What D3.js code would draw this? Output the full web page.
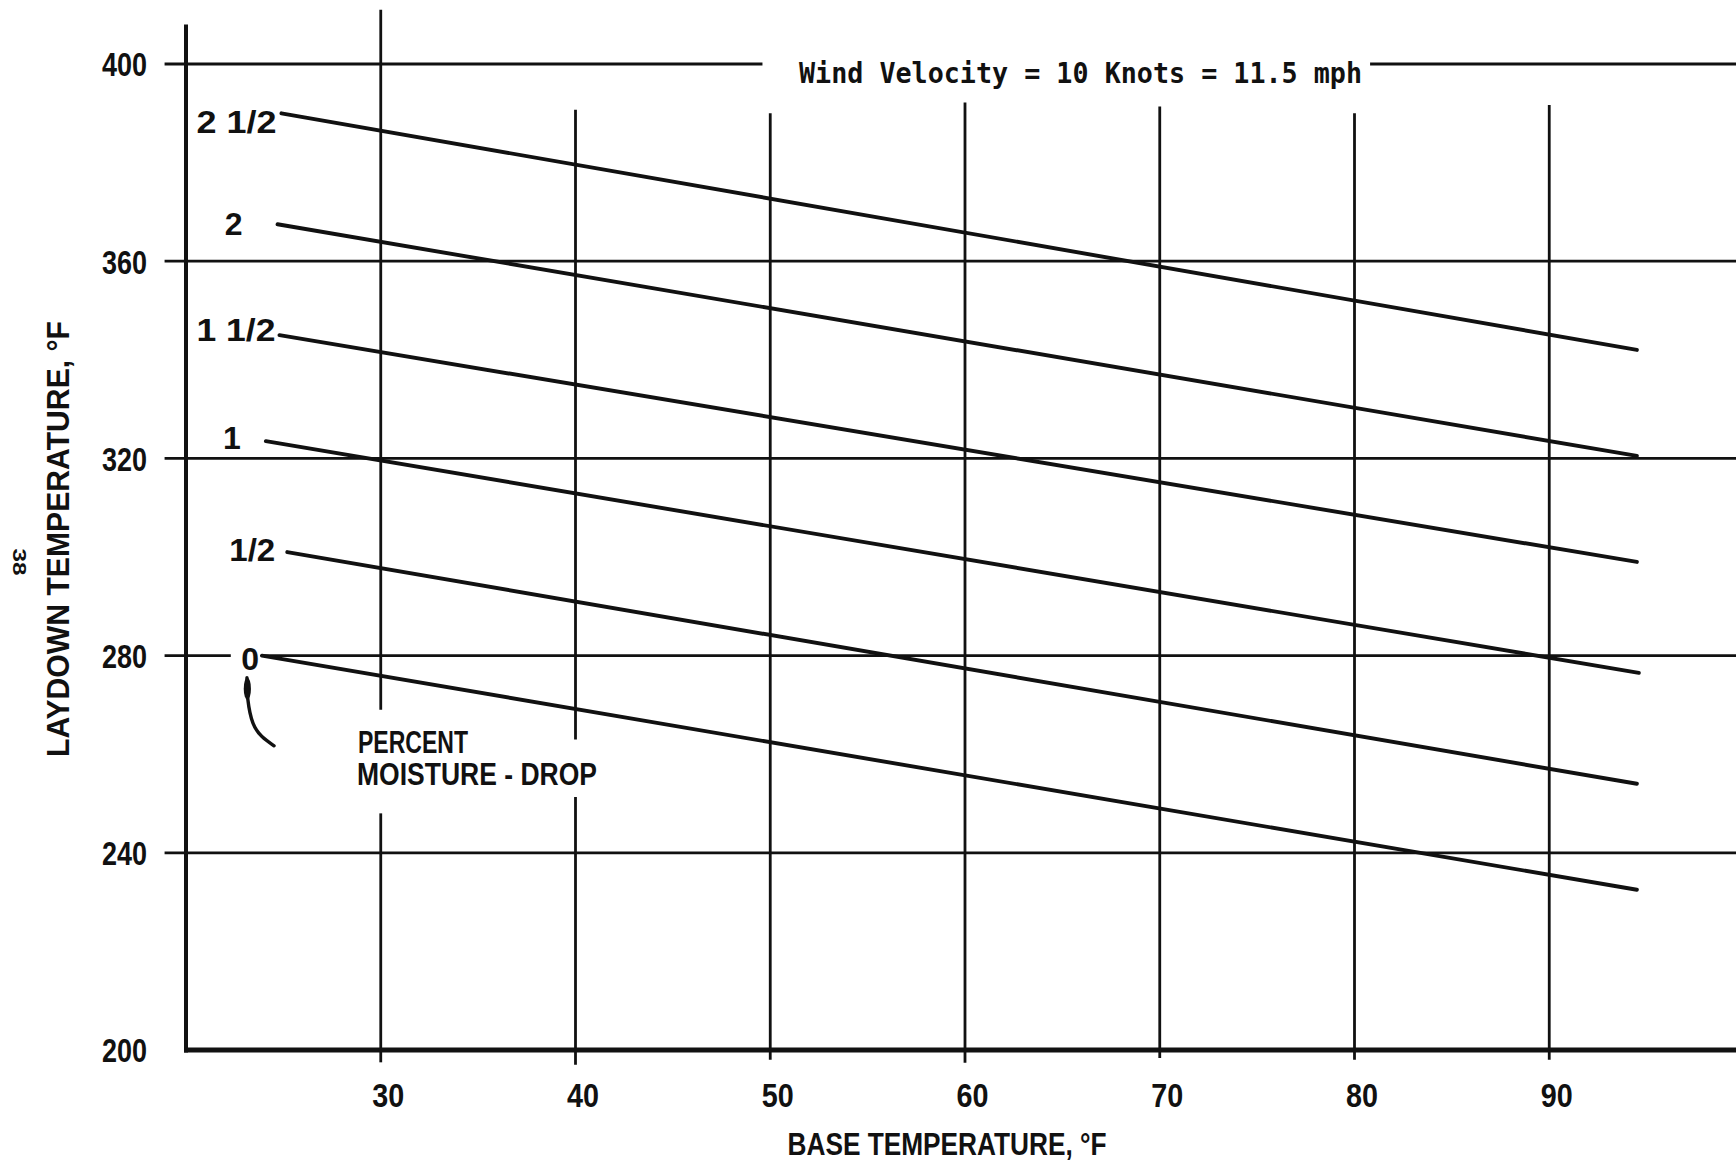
<!DOCTYPE html>
<html>
<head>
<meta charset="utf-8">
<script src="https://cdn.jsdelivr.net/npm/d3@7"></script>
<style>
  body { margin: 0; background: #fff; }
  svg { display: block; background: #fff; }
  .lbl { font-family: "Liberation Sans Narrow", "Liberation Sans", Arial, sans-serif; font-weight: bold; fill: #111; }
  .mono { font-family: "DejaVu Sans Mono", "Liberation Mono", monospace; font-weight: bold; fill: #111; }
</style>
</head>
<body>
<svg id="chart" width="1736" height="1161"></svg>
<script>
// percent moisture drop, one straight line per value
const moistureLabels = ["0", "1/2", "1", "1 1/2", "2", "2 1/2"]
const startBaseTemp  = [23.9, 25.2, 24.1, 24.8, 24.7, 24.9]
const startLaydown   = [280, 301, 323.5, 345, 367.5, 390]
const endBaseTemp    = [94.5, 94.5, 94.6, 94.5, 94.5, 94.5]
const endLaydown     = [232.5, 254, 276.5, 299, 320.5, 342]

// axis ticks
const xTicks = [30, 40, 50, 60, 70, 80, 90]
const yTicks = [200, 240, 280, 320, 360, 400]

const svg = d3.select("#chart")
const ink = "#111"

const x = d3.scaleLinear().domain([20, 100]).range([186, 1744])
const y = d3.scaleLinear().domain([200, 400]).range([1050, 64])

// gridline pieces (value units), gaps leave room for the texts
const vGrid = [
  {v: 30, segs: [[411, 269], [248, 197.5]]},
  {v: 40, segs: [[390.7, 263], [251.3, 197]]},
  {v: 50, segs: [[390, 198]]},
  {v: 60, segs: [[392.2, 197.4]]},
  {v: 70, segs: [[391.4, 198.4]]},
  {v: 80, segs: [[390, 198]]},
  {v: 90, segs: [[391.7, 198]]}
]
const hGrid = [
  {v: 400, segs: [[18.9, 49.6], [80.8, 100]]},
  {v: 360, segs: [[18.9, 100]]},
  {v: 320, segs: [[18.9, 100]]},
  {v: 280, segs: [[18.9, 22.3], [23.9, 100]]},
  {v: 240, segs: [[18.9, 100]]}
]

const grid = svg.append("g").attr("stroke", ink).attr("stroke-width", 2.8)

grid.selectAll("line.v")
  .data(vGrid.flatMap(g => g.segs.map(s => ({v: g.v, a: s[0], b: s[1]}))))
  .join("line")
  .attr("class", "v")
  .attr("x1", d => x(d.v)).attr("x2", d => x(d.v))
  .attr("y1", d => y(d.a)).attr("y2", d => y(d.b))

grid.selectAll("line.h")
  .data(hGrid.flatMap(g => g.segs.map(s => ({v: g.v, a: s[0], b: s[1]}))))
  .join("line")
  .attr("class", "h")
  .attr("x1", d => x(d.a)).attr("x2", d => x(d.b))
  .attr("y1", d => y(d.v)).attr("y2", d => y(d.v))

// frame: left axis and heavy base line
svg.append("line")
  .attr("x1", x(20)).attr("x2", x(20))
  .attr("y1", y(408)).attr("y2", y(199.5))
  .attr("stroke", ink).attr("stroke-width", 4)
svg.append("line")
  .attr("x1", x(19.9)).attr("x2", x(100))
  .attr("y1", y(200)).attr("y2", y(200))
  .attr("stroke", ink).attr("stroke-width", 5)

// moisture lines
const curves = moistureLabels.map((label, i) => ({
  label,
  pts: [[startBaseTemp[i], startLaydown[i]], [endBaseTemp[i], endLaydown[i]]]
}))
const line = d3.line().x(d => x(d[0])).y(d => y(d[1]))

svg.append("g")
  .selectAll("path")
  .data(curves)
  .join("path")
  .attr("d", d => line(d.pts))
  .attr("fill", "none")
  .attr("stroke", ink)
  .attr("stroke-width", 3.9)
  .attr("stroke-linecap", "round")

// curve labels: right edge and vertical offset from the line start (px)
const labelPos = {
  "0":     {dx: -3,  dy: 3,  w: null},
  "1/2":   {dx: -12, dy: -3, w: 46},
  "1":     {dx: -25, dy: -4, w: null},
  "1 1/2": {dx: -4,  dy: -6, w: 79},
  "2":     {dx: -35, dy: -1, w: null},
  "2 1/2": {dx: -5,  dy: 8,  w: 80}
}
svg.append("g")
  .selectAll("text")
  .data(curves)
  .join("text")
  .attr("class", "lbl")
  .attr("font-size", 32)
  .attr("text-anchor", "end")
  .attr("x", d => x(d.pts[0][0]) + labelPos[d.label].dx)
  .attr("y", d => y(d.pts[0][1]) + labelPos[d.label].dy)
  .attr("dy", "0.36em")
  .each(function(d) {
    const w = labelPos[d.label].w
    if (w) d3.select(this).attr("textLength", w).attr("lengthAdjust", "spacingAndGlyphs")
  })
  .text(d => d.label)

// y axis labels
const yAxis = svg.append("g")
  .attr("transform", "translate(147,0)")
  .call(d3.axisLeft(y).tickValues(yTicks).tickSize(0).tickPadding(0))
yAxis.select(".domain").remove()
yAxis.selectAll("text")
  .attr("class", "lbl")
  .attr("font-size", 33)
  .attr("dy", "0.36em")
  .attr("textLength", 45)
  .attr("lengthAdjust", "spacingAndGlyphs")
yAxis.attr("font-family", null).attr("font-size", null)

// x axis labels
const xAxis = svg.append("g")
  .attr("transform", "translate(7,1095)")
  .call(d3.axisBottom(x).tickValues(xTicks).tickSize(0).tickPadding(0))
xAxis.select(".domain").remove()
xAxis.selectAll("text")
  .attr("class", "lbl")
  .attr("font-size", 33)
  .attr("dy", "0.36em")
  .attr("textLength", 32)
  .attr("lengthAdjust", "spacingAndGlyphs")
xAxis.attr("font-family", null).attr("font-size", null)

// axis titles
svg.append("text")
  .attr("class", "lbl")
  .attr("font-size", 31)
  .attr("text-anchor", "middle")
  .attr("x", 947).attr("y", 1144).attr("dy", "0.36em")
  .attr("textLength", 319).attr("lengthAdjust", "spacingAndGlyphs")
  .text("BASE TEMPERATURE, °F")

svg.append("text")
  .attr("class", "lbl")
  .attr("font-size", 31)
  .attr("text-anchor", "middle")
  .attr("transform", "translate(58,539) rotate(-90)")
  .attr("dy", "0.36em")
  .attr("textLength", 436).attr("lengthAdjust", "spacingAndGlyphs")
  .text("LAYDOWN TEMPERATURE, °F")

// page number, turned the other way
svg.append("text")
  .attr("class", "lbl")
  .attr("font-size", 19)
  .attr("font-weight", "normal")
  .attr("text-anchor", "middle")
  .attr("transform", "translate(20,562) rotate(90)")
  .attr("dy", "0.36em")
  .attr("textLength", 27).attr("lengthAdjust", "spacingAndGlyphs")
  .text("38")

// title sitting in the gap of the 400 line
svg.append("text")
  .attr("class", "mono")
  .attr("font-size", 28)
  .attr("x", 799).attr("y", 83)
  .attr("textLength", 563).attr("lengthAdjust", "spacingAndGlyphs")
  .text("Wind Velocity = 10 Knots = 11.5 mph")

// "percent moisture - drop" note
const note = svg.append("g").attr("class", "lbl").attr("font-size", 31)
note.append("text")
  .attr("x", 358).attr("y", 742).attr("dy", "0.36em")
  .attr("textLength", 110).attr("lengthAdjust", "spacingAndGlyphs")
  .text("PERCENT")
note.append("text")
  .attr("x", 357).attr("y", 774).attr("dy", "0.36em")
  .attr("textLength", 240).attr("lengthAdjust", "spacingAndGlyphs")
  .text("MOISTURE - DROP")

// hand-drawn pointer to the 0 line
const arrowPts = [[23.13, 275.5], [23.18, 271], [23.44, 266.3], [23.9, 263.6], [24.52, 261.7]]
svg.append("path")
  .attr("d", d3.line().x(d => x(d[0])).y(d => y(d[1])).curve(d3.curveNatural)(arrowPts))
  .attr("fill", "none")
  .attr("stroke", ink)
  .attr("stroke-width", 3.4)
  .attr("stroke-linecap", "round")
svg.append("ellipse")
  .attr("cx", x(23.15)).attr("cy", y(273.3))
  .attr("rx", 3.6).attr("ry", 11)
  .attr("fill", ink)
</script>
</body>
</html>
